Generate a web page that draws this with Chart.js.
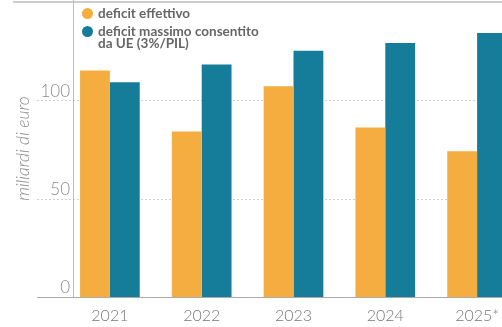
<!DOCTYPE html>
<html>
<head>
<meta charset="utf-8">
<script src="https://cdn.jsdelivr.net/npm/chart.js"></script>
<style>
    body { margin: 0; background: #fff; overflow: hidden; }
    #wrap { position: relative; width: 502px; height: 327px; overflow: hidden; }
    #legend { position: absolute; left: 82px; top: 7px; font-family: Lato, sans-serif; font-weight: 700; font-size: 13.5px; color: #666; }
    .item { position: relative; padding-left: 16px; line-height: 12px; margin-bottom: 6px; }
    .dot { position: absolute; left: 0; top: 1px; width: 11px; height: 11px; border-radius: 50%; }
</style>
</head>
<body>
<div id="wrap">
    <canvas id="chart" width="523" height="327"></canvas>
    <div id="legend">
        <div class="item"><span class="dot" style="background:#F5AD3F"></span>deficit effettivo</div>
        <div class="item"><span class="dot" style="background:#157C99"></span>deficit massimo consentito<br>da UE (3%/PIL)</div>
    </div>
</div>
<script>
const years = ["2021", "2022", "2023", "2024", "2025*"];
const deficitEffettivo = [115, 84, 107, 86, 74];
const deficitMassimo = [109, 118, 125, 129, 134];
const yTicks = [0, 50, 100];

const ORANGE = "#F5AD3F";
const TEAL = "#157C99";

// griglia tratteggiata, asse verticale, bordo superiore ed etichette y
const decorations = {
    id: "decorations",
    beforeDatasetsDraw(chart) {
        const { ctx, chartArea, scales } = chart;
        const y = scales.y;
        ctx.save();
        ctx.strokeStyle = "#cfcfcf";
        ctx.lineWidth = 1;
        ctx.setLineDash([2, 2]);
        yTicks.filter(v => v > 0).forEach(v => {
            const py = Math.round(y.getPixelForValue(v)) + 0.5;
            ctx.beginPath();
            ctx.moveTo(chartArea.left - 27, py);
            ctx.lineTo(chartArea.right, py);
            ctx.stroke();
        });
        ctx.setLineDash([]);
        ctx.strokeStyle = "#bdbdbd";
        ctx.beginPath();
        ctx.moveTo(chartArea.left + 9.5, chartArea.top);
        ctx.lineTo(chartArea.left + 9.5, y.getPixelForValue(0));
        ctx.stroke();
        ctx.lineWidth = 1.5;
        ctx.beginPath();
        ctx.moveTo(13, 2);
        ctx.lineTo(chartArea.right, 2);
        ctx.stroke();

        ctx.fillStyle = "#8a8a8a";
        ctx.font = "300 17px Lato";
        ctx.textAlign = "right";
        ctx.textBaseline = "middle";
        yTicks.forEach(v => {
            ctx.fillText(String(v), chartArea.left + 6, y.getPixelForValue(v) - 9);
        });
        ctx.restore();
    },
    afterDatasetsDraw(chart) {
        const { ctx, chartArea, scales } = chart;
        const py = Math.round(scales.y.getPixelForValue(0)) + 0.5;
        ctx.save();
        ctx.strokeStyle = "#aaaaaa";
        ctx.lineWidth = 1;
        ctx.beginPath();
        ctx.moveTo(chartArea.left - 27, py);
        ctx.lineTo(chartArea.right, py);
        ctx.stroke();
        ctx.restore();
    }
};

new Chart(document.getElementById("chart"), {
    type: "bar",
    data: {
        labels: years,
        datasets: [
            { label: "deficit effettivo", data: deficitEffettivo, backgroundColor: ORANGE },
            { label: "deficit massimo consentito da UE (3%/PIL)", data: deficitMassimo, backgroundColor: TEAL }
        ]
    },
    options: {
        responsive: false,
        animation: false,
        layout: { padding: 0, autoPadding: false },
        categoryPercentage: 0.65,
        barPercentage: 1,
        plugins: { legend: { display: false }, tooltip: { enabled: false } },
        scales: {
            x: {
                grid: { display: false, drawTicks: false },
                border: { display: false },
                afterFit(scale) { scale.height = 30; },
                ticks: {
                    color: "#777",
                    padding: 9,
                    font: { family: "Lato", weight: 300, size: 16 }
                }
            },
            y: {
                min: 0,
                max: 150.8,
                grid: { display: false, drawTicks: false },
                border: { display: false },
                afterFit(scale) { scale.width = 64; },
                afterBuildTicks(scale) { scale.ticks = yTicks.map(v => ({ value: v })); },
                ticks: { display: false },
                title: {
                    display: true,
                    text: "miliardi di euro",
                    color: "#8a8a8a",
                    padding: { top: 13, bottom: 0 },
                    font: { family: "Lato", weight: 300, style: "italic", size: 17.5 }
                }
            }
        }
    },
    plugins: [decorations]
});
</script>
</body>
</html>
